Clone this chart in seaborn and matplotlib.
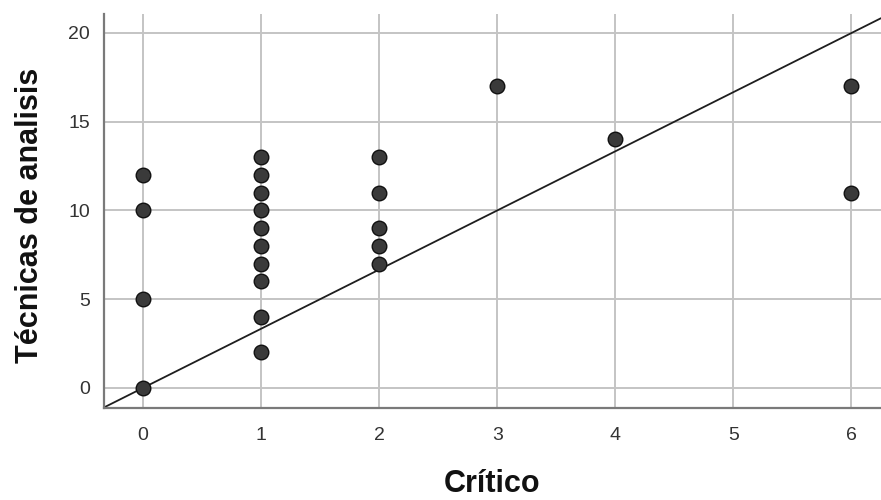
import numpy as np
import pandas as pd
import matplotlib
matplotlib.use("Agg")
import matplotlib.pyplot as plt
import seaborn as sns

critico = [0, 0, 0, 0,
           1, 1, 1, 1, 1, 1, 1, 1, 1, 1,
           2, 2, 2, 2, 2,
           3, 4, 6, 6]
tecnicas = [0, 5, 10, 12,
            2, 4, 6, 7, 8, 9, 10, 11, 12, 13,
            7, 8, 9, 11, 13,
            17, 14, 11, 17]
x_ticks = [0, 1, 2, 3, 4, 5, 6]
y_ticks = [0, 5, 10, 15, 20]
line_slope = 10 / 3

df = pd.DataFrame({"Crítico": critico, "Técnicas de analisis": tecnicas})

sns.set_theme(style="white")
plt.rcParams['font.family'] = ['Liberation Sans', 'DejaVu Sans']

fig = plt.figure(figsize=(8.81, 5), dpi=100)
ax = fig.add_axes([0.118, 0.184, 0.882, 0.788])

ax.set_xlim(-0.33, 6.25)
ax.set_ylim(-1.13, 21.07)
ax.set_xticks(x_ticks)
ax.set_yticks(y_ticks)
ax.grid(True, color="#c4c4c4", linewidth=1.4)
ax.set_axisbelow(True)

xs = np.array([-0.33, 6.25])
ax.plot(xs, line_slope * xs, color="#1e1e1e", linewidth=1.3, zorder=2)

sns.scatterplot(data=df, x="Crítico", y="Técnicas de analisis", ax=ax,
                s=110, color="#3a3a3a", edgecolor="#111111", linewidth=1.0,
                zorder=3, legend=False)

for side in ["top", "right"]:
    ax.spines[side].set_visible(False)
for side in ["left", "bottom"]:
    ax.spines[side].set_color("#7a7a7a")
    ax.spines[side].set_linewidth(1.6)

ax.tick_params(axis="both", length=0, labelsize=14, colors="#333333")
ax.tick_params(axis="x", pad=14)
ax.tick_params(axis="y", pad=10)
ax.set_xlabel("Crítico", fontsize=22, fontweight="bold", color="#111111")
ax.xaxis.set_label_coords(0.5, -0.155)
ax.set_ylabel("Técnicas de analisis", fontsize=22, fontweight="bold", color="#111111")
ax.yaxis.set_label_coords(-0.076, 0.49)

fig.savefig("out.png", dpi=100)
